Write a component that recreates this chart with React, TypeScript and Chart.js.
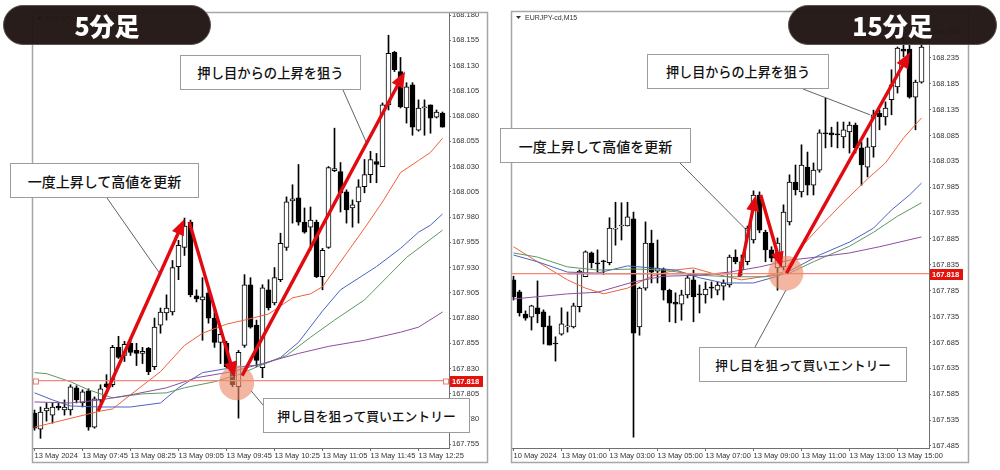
import { useEffect, useRef } from "react";
import { Chart, registerables } from "chart.js";

Chart.register(...registerables);

// ================= 5-minute chart (left) =================
const m5Open = [167.786,167.770,167.788,167.784,167.793,167.789,167.789,167.811,167.796,167.808,
167.772,167.799,167.815,167.814,167.851,167.843,167.855,167.848,167.845,167.850,
167.832,167.873,167.885,167.886,167.931,167.950,167.975,167.902,167.898,167.905,
167.880,167.856,167.855,167.827,167.812,167.853,167.913,167.873,167.831,167.908,
167.895,167.918,167.950,167.996,167.999,167.975,167.970,167.975,167.921,167.950,
168.026,168.025,168.005,167.989,167.995,168.010,168.022,168.035,168.030,168.091,
168.143,168.124,168.088,168.111,168.066,168.088,168.091,168.079,168.083];
const m5High = [167.789,167.792,167.796,167.796,167.796,167.799,167.814,167.813,167.809,167.810,
167.802,167.814,167.824,167.853,167.862,167.857,167.860,167.855,167.851,167.851,
167.880,167.890,167.903,167.937,167.957,167.979,167.977,167.908,167.920,167.911,
167.890,167.867,167.857,167.831,167.848,167.923,167.920,167.878,167.913,167.918,
167.930,167.964,168.000,168.012,168.032,167.989,167.990,167.977,167.949,168.030,
168.068,168.034,168.007,167.997,168.017,168.037,168.045,168.043,168.093,168.160,
168.144,168.138,168.113,168.113,168.096,168.096,168.091,168.086,168.084];
const m5Low = [167.769,167.761,167.778,167.776,167.789,167.784,167.784,167.796,167.792,167.769,
167.771,167.796,167.811,167.812,167.840,167.837,167.843,167.833,167.835,167.824,
167.829,167.865,167.878,167.883,167.918,167.942,167.901,167.896,167.858,167.875,
167.851,167.835,167.831,167.812,167.781,167.851,167.870,167.832,167.821,167.888,
167.893,167.916,167.947,167.974,167.972,167.964,167.947,167.920,167.908,167.949,
168.025,167.985,167.974,167.970,167.974,168.004,168.014,168.014,168.030,168.086,
168.124,168.088,168.073,168.061,168.065,168.061,168.063,168.078,168.069];
const m5Close = [167.771,167.787,167.791,167.792,167.791,167.792,167.812,167.799,167.807,167.772,
167.800,167.810,167.812,167.851,167.841,167.854,167.846,167.845,167.847,167.827,
167.871,167.886,167.890,167.930,167.952,167.971,167.903,167.899,167.901,167.880,
167.856,167.864,167.832,167.814,167.846,167.913,167.871,167.838,167.910,167.890,
167.920,167.954,167.995,167.998,167.975,167.965,167.977,167.921,167.947,168.029,
168.028,168.004,167.987,167.992,168.010,168.022,168.037,168.032,168.091,168.142,
168.126,168.089,168.109,168.069,168.088,168.089,168.078,168.084,168.069];
const m5XTickLabels = ["13 May 2024","13 May 07:45","13 May 08:25","13 May 09:05","13 May 09:45","13 May 10:25","13 May 11:05","13 May 11:45","13 May 12:25"];
const m5YTicks = [168.180,168.155,168.130,168.105,168.080,168.055,168.030,168.005,167.980,167.955,167.930,167.905,167.880,167.855,167.830,167.805,167.780,167.755];
const m5MaRed = [[0,167.772],[11,167.788],[13,167.790],[16,167.804],[21,167.827],[25,167.853],[28,167.865],[32,167.874],[35,167.878],[39,167.884],[43,167.900],[46,167.904],[48,167.911],[52,167.944],[55,167.969],[58,167.995],[61,168.024],[64,168.036],[66,168.044],[68,168.058]];
const m5MaBlue = [[0,167.806],[3,167.799],[6,167.793],[11,167.792],[16,167.792],[21,167.796],[24,167.811],[28,167.826],[33,167.831],[38,167.834],[41,167.841],[44,167.856],[48,167.887],[51,167.908],[57,167.931],[61,167.949],[64,167.965],[66,167.972],[68,167.983]];
const m5MaGreen = [[0,167.826],[2,167.825],[6,167.817],[9,167.809],[13,167.801],[18,167.805],[22,167.806],[25,167.811],[30,167.817],[34,167.824],[38,167.834],[42,167.843],[46,167.861],[50,167.878],[55,167.898],[59,167.922],[62,167.940],[68,167.967]];
const m5MaPurple = [[0,167.797],[6,167.796],[11,167.799],[16,167.804],[22,167.811],[27,167.821],[33,167.827],[38,167.835],[44,167.845],[49,167.852],[55,167.858],[61,167.866],[64,167.871],[68,167.886]];
const m5Arrows = [[10.6,167.788,25.0,167.978],[25.8,167.975,33.4,167.821],[34.6,167.823,61.75,168.124]];
const m5Entry = [33.7,167.816];
const m5LeaderTargets = [[55.3,168.054],[20.9,167.924],[36.1,167.808]];

// ================= 15-minute chart (right) =================
const m15Open = [167.806,167.783,167.740,167.734,167.752,167.744,167.717,167.684,167.701,167.715,
167.715,167.754,167.812,167.858,167.839,167.842,167.839,167.904,167.910,167.910,
167.924,167.715,167.790,167.877,167.823,167.827,167.786,167.763,167.759,167.777,
167.806,167.779,167.777,167.792,167.786,167.794,167.796,167.850,167.825,167.841,
167.883,167.970,167.898,167.864,167.829,167.831,167.918,167.995,167.976,168.024,
167.989,168.018,168.090,168.090,168.088,168.082,168.092,168.105,168.061,168.024,
168.063,168.128,168.121,168.154,168.179,168.252,168.252,168.159,168.188];
const m15High = [167.813,167.786,167.746,167.757,167.804,167.748,167.736,167.696,167.752,167.744,
167.761,167.825,167.862,167.860,167.864,167.844,167.926,167.956,167.955,167.956,
167.937,167.792,167.918,167.902,167.883,167.829,167.788,167.781,167.786,167.815,
167.825,167.796,167.802,167.802,167.802,167.806,167.854,167.864,167.854,167.910,
167.978,167.976,167.902,167.870,167.887,167.951,168.009,168.028,168.067,168.053,
168.032,168.096,168.157,168.101,168.111,168.111,168.111,168.109,168.072,168.080,
168.134,168.134,168.150,168.212,168.256,168.279,168.260,168.192,168.264];
const m15Low = [167.767,167.736,167.728,167.709,167.723,167.682,167.680,167.649,167.699,167.705,
167.713,167.744,167.812,167.829,167.821,167.817,167.835,167.873,167.883,167.910,
167.502,167.699,167.786,167.800,167.800,167.767,167.725,167.723,167.728,167.771,
167.725,167.742,167.761,167.771,167.777,167.767,167.792,167.837,167.815,167.835,
167.877,167.897,167.841,167.841,167.786,167.825,167.912,167.970,167.966,167.970,
167.970,168.014,168.061,168.063,168.061,168.061,168.051,168.051,167.989,168.005,
168.043,168.096,168.105,168.125,168.167,168.237,168.157,168.096,168.186];
const m15Close = [167.773,167.742,167.732,167.756,167.740,167.715,167.680,167.682,167.721,167.717,
167.756,167.823,167.860,167.839,167.837,167.841,167.906,167.906,167.912,167.928,
167.703,167.790,167.877,167.821,167.829,167.786,167.761,167.759,167.777,167.810,
167.773,167.777,167.788,167.790,167.796,167.800,167.850,167.841,167.841,167.906,
167.970,167.902,167.864,167.848,167.877,167.937,167.995,167.980,168.028,167.989,
168.018,168.090,168.088,168.086,168.086,168.096,168.105,168.061,168.028,168.063,
168.125,168.121,168.138,168.183,168.254,168.248,168.159,168.188,168.256];
const m15XTickLabels = ["10 May 2024","13 May 01:00","13 May 03:00","13 May 05:00","13 May 07:00","13 May 09:00","13 May 11:00","13 May 13:00","13 May 15:00"];
const m15YTicks = [168.285,168.235,168.185,168.135,168.085,168.035,167.985,167.935,167.885,167.835,167.785,167.735,167.685,167.635,167.585,167.535,167.485];
const m15MaRed = [[0,167.870],[4,167.841],[9,167.806],[12,167.790],[15,167.779],[19,167.790],[23,167.813],[27,167.825],[30,167.829],[33,167.819],[38,167.806],[42,167.813],[45,167.821],[48,167.870],[51,167.908],[55,167.956],[59,168.001],[62,168.032],[65,168.080],[68,168.119]];
const m15MaBlue = [[0,167.854],[4,167.841],[9,167.821],[14,167.819],[19,167.833],[23,167.829],[27,167.825],[31,167.810],[35,167.800],[40,167.800],[44,167.813],[46,167.823],[51,167.854],[56,167.879],[60,167.906],[63,167.941],[66,167.970],[68,167.993]];
const m15MaGreen = [[0,167.858],[4,167.850],[9,167.831],[14,167.825],[20,167.827],[25,167.825],[31,167.815],[36,167.812],[42,167.812],[46,167.819],[50,167.841],[56,167.871],[60,167.898],[64,167.929],[68,167.955]];
const m15MaPurple = [[0,167.769],[9,167.779],[14,167.782],[20,167.802],[25,167.813],[31,167.815],[36,167.821],[41,167.831],[46,167.844],[52,167.852],[56,167.858],[61,167.870],[68,167.889]];
const m15Support = [[9,167.818],[36.4,167.818]];
const m15Arrows = [[37.6,167.812,40.4,167.970],[41.2,167.970,44.7,167.829],[45.5,167.819,66.1,168.246]];
const m15Entry = [45.4,167.819];
const m15LeaderTargets = [[59.4,168.125],[39.2,167.898],[45.4,167.786]];

const entryPrice = 167.818;
const TICK_EVERY = 8;

const FONT_JP = '"Noto Sans CJK JP", "Noto Sans", sans-serif';
const FONT_AX = '"Liberation Sans", Arial, sans-serif';
const RED = "#e00a10";

// layout of panels (pixels inside each 500x470 canvas)
const leftPanel = {
  open: m5Open, high: m5High, low: m5Low, close: m5Close,
  xLabels: m5XTickLabels, yTicks: m5YTicks,
  mas: [m5MaPurple, m5MaGreen, m5MaBlue, m5MaRed],
  extra: [] as number[][][],
  arrows: m5Arrows, entry: m5Entry,
  leaders: [[343, 90], [107, 198], [263, 405]], leaderTargets: m5LeaderTargets,
  xMin: -0.25, xMax: 69.0833, yMin: 167.7514, yMax: 168.182,
  padL: 33, padT: 13, yAxisW: 51, markers: true,
  frame: [33, 13, 488, 463], symbol: "EURJPY-cd,M5",
};
const rightPanel = {
  open: m15Open, high: m15High, low: m15Low, close: m15Close,
  xLabels: m15XTickLabels, yTicks: m15YTicks,
  mas: [m15MaPurple, m15MaGreen, m15MaBlue, m15MaRed],
  extra: [m15Support],
  arrows: m15Arrows, entry: m15Entry,
  leaders: [[303, 89], [180, 163], [255, 347]], leaderTargets: m15LeaderTargets,
  xMin: -0.25, xMax: 69.25, yMin: 167.4811, yMax: 168.3236,
  padL: 12, padT: 12, yAxisW: 71, markers: false,
  frame: [12, 12, 469, 463], symbol: "EURJPY-cd,M15",
};
const maColors = ["#8d4f9e", "#5f9660", "#4b63c0", "#f0603c"];

function drawArrow(ctx: CanvasRenderingContext2D, x1: number, y1: number, x2: number, y2: number) {
  const a = Math.atan2(y2 - y1, x2 - x1);
  const len = 16, hw = 6.5;
  const c = Math.cos(a), s = Math.sin(a);
  const bx = x2 - len * c, by = y2 - len * s;
  ctx.save();
  ctx.strokeStyle = RED;
  ctx.fillStyle = RED;
  ctx.lineWidth = 3.4;
  ctx.beginPath();
  ctx.moveTo(x1, y1);
  ctx.lineTo(bx + 3 * c, by + 3 * s);
  ctx.stroke();
  ctx.beginPath();
  ctx.moveTo(x2, y2);
  ctx.lineTo(bx + hw * s, by - hw * c);
  ctx.lineTo(bx - hw * s, by + hw * c);
  ctx.closePath();
  ctx.fill();
  ctx.restore();
}

function makeChart(canvas: HTMLCanvasElement, P: any) {
  const ids = P.open.map((_: number, i: number) => i);
  const wicks = ids.map((i: number) => ({ x: i, y: [P.low[i], P.high[i]] }));
  const bodies = ids.map((i: number) => ({
    x: i,
    y: [Math.min(P.open[i], P.close[i]), Math.max(P.open[i], P.close[i])],
  }));
  const bodyColors = ids.map((i: number) => (P.close[i] >= P.open[i] ? "#ffffff" : "#000000"));

  const lineSet = (pts: number[][], color: string, width: number, order: number) => ({
    type: "line",
    data: pts.map((p) => ({ x: p[0], y: p[1] })),
    borderColor: color,
    borderWidth: width,
    pointRadius: 0,
    tension: 0,
    order,
  });

  const datasets: any[] = [
    lineSet([[P.xMin, entryPrice], [P.xMax, entryPrice]], "#f3877c", 1.2, 0),
    ...P.extra.map((pts: number[][]) => lineSet(pts, "#9a1c1c", 1.4, 0)),
    ...P.mas.map((pts: number[][], k: number) => lineSet(pts, maColors[k], 1, 1)),
    {
      type: "bar",
      data: bodies,
      backgroundColor: bodyColors,
      borderColor: "#000",
      borderWidth: 1,
      borderSkipped: false,
      barThickness: 5,
      grouped: false,
      minBarLength: 1,
      order: 5,
    },
    {
      type: "bar",
      data: wicks,
      backgroundColor: "#000",
      borderWidth: 0,
      barThickness: 1,
      grouped: false,
      order: 6,
    },
  ];

  const overlay = {
    id: "overlay",
    afterDatasetsDraw(chart: any) {
      const { ctx, chartArea: ca } = chart;
      const X = (v: number) => chart.scales.x.getPixelForValue(v);
      const Y = (v: number) => chart.scales.y.getPixelForValue(v);
      ctx.save();
      if (P.markers) {
        const yy = Math.round(Y(entryPrice)) + 0.5;
        ctx.lineWidth = 1;
        ctx.strokeStyle = "#f07a6e";
        ctx.fillStyle = "#fff";
        for (const xx of [ca.left + 3, ca.right - 3]) {
          ctx.fillRect(xx - 2.5, yy - 2.5, 5, 5);
          ctx.strokeRect(xx - 2.5, yy - 2.5, 5, 5);
        }
      }
      ctx.fillStyle = "rgba(236,138,104,0.62)";
      ctx.beginPath();
      ctx.arc(X(P.entry[0]), Y(P.entry[1]), 17.5, 0, Math.PI * 2);
      ctx.fill();
      ctx.strokeStyle = "#3a3a3a";
      ctx.lineWidth = 0.8;
      P.leaders.forEach((f: number[], k: number) => {
        const t = P.leaderTargets[k];
        ctx.beginPath();
        ctx.moveTo(f[0], f[1]);
        ctx.lineTo(X(t[0]), Y(t[1]));
        ctx.stroke();
      });
      for (const a of P.arrows) drawArrow(ctx, X(a[0]), Y(a[1]), X(a[2]), Y(a[3]));
      ctx.restore();
    },
    afterDraw(chart: any) {
      const { ctx, chartArea: ca } = chart;
      const Y = (v: number) => chart.scales.y.getPixelForValue(v);
      ctx.save();
      const yy = Y(entryPrice);
      ctx.fillStyle = "#e3130c";
      ctx.fillRect(ca.right + 1, Math.round(yy) - 5, 33, 11);
      ctx.fillStyle = "#fff";
      ctx.font = `bold 7.5px ${FONT_AX}`;
      ctx.textAlign = "left";
      ctx.textBaseline = "middle";
      ctx.fillText(entryPrice.toFixed(3), ca.right + 3, Math.round(yy) + 0.5);
      const [x0, y0, x1, y1] = P.frame;
      ctx.strokeStyle = "#a6a6a6";
      ctx.lineWidth = 1.5;
      ctx.strokeRect(x0 - 0.5, y0 - 0.5, x1 - x0, y1 - y0);
      // symbol caption
      ctx.fillStyle = "#333";
      ctx.beginPath();
      ctx.moveTo(ca.left + 4, ca.top + 4);
      ctx.lineTo(ca.left + 9, ca.top + 4);
      ctx.lineTo(ca.left + 6.5, ca.top + 7);
      ctx.closePath();
      ctx.fill();
      ctx.font = `7px ${FONT_AX}`;
      ctx.fillText(P.symbol, ca.left + 13, ca.top + 6);
      ctx.restore();
    },
  };

  return new Chart(canvas, {
    type: "bar",
    data: { datasets },
    options: {
      responsive: false,
      animation: false,
      devicePixelRatio: 1,
      events: [],
      layout: { padding: { left: P.padL, top: P.padT, right: 0, bottom: 0 } },
      plugins: { legend: { display: false }, tooltip: { enabled: false } },
      scales: {
        x: {
          type: "linear",
          min: P.xMin,
          max: P.xMax,
          offset: false,
          afterBuildTicks: (s: any) => {
            s.ticks = P.xLabels.map((_: string, k: number) => ({ value: k * TICK_EVERY }));
          },
          afterFit: (s: any) => {
            s.height = 22;
          },
          ticks: {
            autoSkip: false,
            maxRotation: 0,
            minRotation: 0,
            align: "start",
            padding: 0,
            color: "#333",
            font: { family: FONT_AX, size: 7.5 },
            callback: (_v: any, k: number) => P.xLabels[k],
          },
          grid: { drawOnChartArea: false, drawTicks: true, tickLength: 3, color: "#707070", offset: false },
          border: { display: true, color: "#707070" },
        },
        y: {
          type: "linear",
          position: "right",
          min: P.yMin,
          max: P.yMax,
          afterBuildTicks: (s: any) => {
            s.ticks = P.yTicks.map((v: number) => ({ value: v }));
          },
          afterFit: (s: any) => {
            s.width = P.yAxisW;
          },
          ticks: {
            padding: 1,
            color: "#333",
            font: { family: FONT_AX, size: 7.5 },
            callback: (v: any) => Number(v).toFixed(3),
          },
          grid: { drawOnChartArea: false, drawTicks: true, tickLength: 2, color: "#707070" },
          border: { display: true, color: "#707070" },
        },
      },
    } as any,
    plugins: [overlay],
  } as any);
}

const boxes = [
  { text: "押し目からの上昇を狙う", l: 180, t: 55, w: 181, h: 35, fs: 13.3 },
  { text: "一度上昇して高値を更新", l: 10, t: 163, w: 189, h: 35, fs: 14 },
  { text: "押し目を狙って買いエントリー", l: 263, t: 398, w: 207, h: 35, fs: 12.8 },
  { text: "押し目からの上昇を狙う", l: 647, t: 54, w: 182, h: 35, fs: 13.1 },
  { text: "一度上昇して高値を更新", l: 500, t: 128, w: 191, h: 35, fs: 14 },
  { text: "押し目を狙って買いエントリー", l: 699, t: 347, w: 208, h: 35, fs: 12.6 },
];
const badges = [
  { text: "5分足", l: 3, t: 5, w: 208, h: 40 },
  { text: "15分足", l: 788, t: 5, w: 209, h: 40 },
];

export default function App() {
  const leftRef = useRef<HTMLCanvasElement>(null);
  const rightRef = useRef<HTMLCanvasElement>(null);
  useEffect(() => {
    const c1 = makeChart(leftRef.current as HTMLCanvasElement, leftPanel);
    const c2 = makeChart(rightRef.current as HTMLCanvasElement, rightPanel);
    return () => {
      c1.destroy();
      c2.destroy();
    };
  }, []);
  return (
    <div style={{ position: "absolute", left: 0, top: 0, width: 1000, height: 470, background: "#fff", overflow: "hidden" }}>
      <canvas ref={leftRef} width={500} height={470} style={{ position: "absolute", left: 0, top: 0 }} />
      <canvas ref={rightRef} width={500} height={470} style={{ position: "absolute", left: 500, top: 0 }} />
      {boxes.map((b, i) => (
        <div
          key={"b" + i}
          style={{
            position: "absolute", left: b.l, top: b.t, width: b.w, height: b.h, boxSizing: "border-box",
            background: "#fff", border: "1px solid #9c9c9c", display: "flex", alignItems: "center",
            justifyContent: "center", fontFamily: FONT_JP, fontWeight: 500, fontSize: b.fs, color: "#111",
            whiteSpace: "nowrap",
          }}
        >
          {b.text}
        </div>
      ))}
      {badges.map((b, i) => (
        <div
          key={"g" + i}
          style={{
            position: "absolute", left: b.l, top: b.t, width: b.w, height: b.h, boxSizing: "border-box",
            background: "rgba(33,22,19,0.97)", border: "1px solid #5a5452", borderRadius: 20, display: "flex",
            alignItems: "center", justifyContent: "center", fontFamily: FONT_JP, fontWeight: 900, fontSize: 25,
            color: "#fff", letterSpacing: 0,
          }}
        >
          {b.text}
        </div>
      ))}
    </div>
  );
}
